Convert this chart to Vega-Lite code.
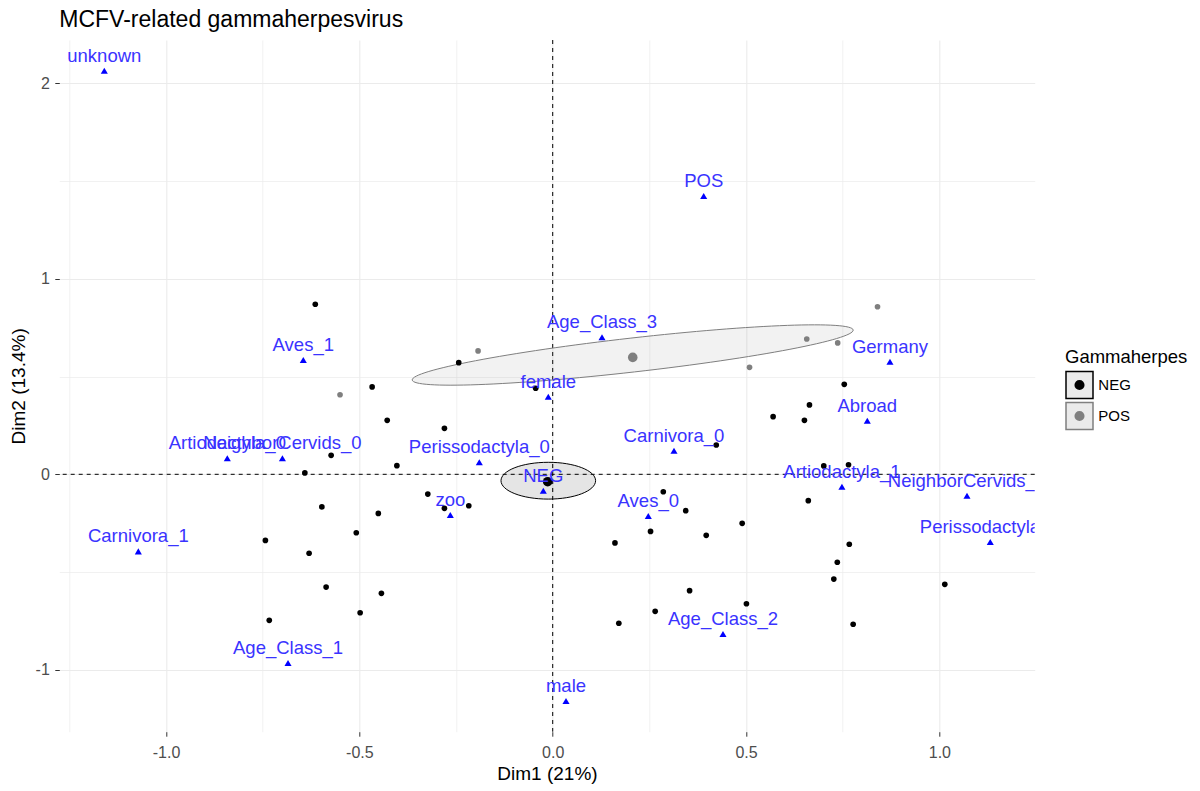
{
  "$schema": "https://vega.github.io/schema/vega-lite/v6.json",
  "width": 975.4,
  "height": 691.7,
  "autosize": {"type": "none"},
  "padding": {"left": 59.3, "top": 40, "right": 165.3, "bottom": 59.3},
  "background": "#ffffff",
  "title": {
    "text": "MCFV-related gammaherpesvirus",
    "anchor": "start",
    "frame": "group",
    "fontSize": 23,
    "font": "Liberation Sans",
    "fontWeight": "normal",
    "color": "#000000",
    "baseline": "alphabetic",
    "offset": -10
  },
  "config": {
    "view": {"stroke": null},
    "font": "Liberation Sans"
  },
  "datasets": {
    "ind": [
      {"x": -0.614, "y": 0.870, "Gammaherpes": "NEG", "kind": "ind"},
      {"x": -0.467, "y": 0.447, "Gammaherpes": "NEG", "kind": "ind"},
      {"x": -0.428, "y": 0.276, "Gammaherpes": "NEG", "kind": "ind"},
      {"x": -0.573, "y": 0.097, "Gammaherpes": "NEG", "kind": "ind"},
      {"x": -0.403, "y": 0.044, "Gammaherpes": "NEG", "kind": "ind"},
      {"x": -0.641, "y": 0.007, "Gammaherpes": "NEG", "kind": "ind"},
      {"x": -0.597, "y": -0.167, "Gammaherpes": "NEG", "kind": "ind"},
      {"x": -0.451, "y": -0.200, "Gammaherpes": "NEG", "kind": "ind"},
      {"x": -0.508, "y": -0.299, "Gammaherpes": "NEG", "kind": "ind"},
      {"x": -0.743, "y": -0.338, "Gammaherpes": "NEG", "kind": "ind"},
      {"x": -0.630, "y": -0.404, "Gammaherpes": "NEG", "kind": "ind"},
      {"x": -0.586, "y": -0.577, "Gammaherpes": "NEG", "kind": "ind"},
      {"x": -0.443, "y": -0.609, "Gammaherpes": "NEG", "kind": "ind"},
      {"x": -0.498, "y": -0.708, "Gammaherpes": "NEG", "kind": "ind"},
      {"x": -0.733, "y": -0.747, "Gammaherpes": "NEG", "kind": "ind"},
      {"x": -0.243, "y": 0.571, "Gammaherpes": "NEG", "kind": "ind"},
      {"x": -0.044, "y": 0.440, "Gammaherpes": "NEG", "kind": "ind"},
      {"x": -0.280, "y": 0.235, "Gammaherpes": "NEG", "kind": "ind"},
      {"x": 0.423, "y": 0.150, "Gammaherpes": "NEG", "kind": "ind"},
      {"x": 0.570, "y": 0.295, "Gammaherpes": "NEG", "kind": "ind"},
      {"x": 0.651, "y": 0.276, "Gammaherpes": "NEG", "kind": "ind"},
      {"x": 0.664, "y": 0.355, "Gammaherpes": "NEG", "kind": "ind"},
      {"x": -0.323, "y": -0.101, "Gammaherpes": "NEG", "kind": "ind"},
      {"x": -0.280, "y": -0.174, "Gammaherpes": "NEG", "kind": "ind"},
      {"x": -0.217, "y": -0.161, "Gammaherpes": "NEG", "kind": "ind"},
      {"x": 0.286, "y": -0.089, "Gammaherpes": "NEG", "kind": "ind"},
      {"x": 0.344, "y": -0.186, "Gammaherpes": "NEG", "kind": "ind"},
      {"x": 0.490, "y": -0.251, "Gammaherpes": "NEG", "kind": "ind"},
      {"x": 0.661, "y": -0.135, "Gammaherpes": "NEG", "kind": "ind"},
      {"x": 0.253, "y": -0.292, "Gammaherpes": "NEG", "kind": "ind"},
      {"x": 0.161, "y": -0.351, "Gammaherpes": "NEG", "kind": "ind"},
      {"x": 0.397, "y": -0.312, "Gammaherpes": "NEG", "kind": "ind"},
      {"x": 0.736, "y": -0.450, "Gammaherpes": "NEG", "kind": "ind"},
      {"x": 0.727, "y": -0.536, "Gammaherpes": "NEG", "kind": "ind"},
      {"x": 0.354, "y": -0.595, "Gammaherpes": "NEG", "kind": "ind"},
      {"x": 0.501, "y": -0.662, "Gammaherpes": "NEG", "kind": "ind"},
      {"x": 0.265, "y": -0.701, "Gammaherpes": "NEG", "kind": "ind"},
      {"x": 0.171, "y": -0.762, "Gammaherpes": "NEG", "kind": "ind"},
      {"x": 0.754, "y": 0.460, "Gammaherpes": "NEG", "kind": "ind"},
      {"x": 0.765, "y": 0.049, "Gammaherpes": "NEG", "kind": "ind"},
      {"x": 0.701, "y": 0.043, "Gammaherpes": "NEG", "kind": "ind"},
      {"x": 0.767, "y": -0.358, "Gammaherpes": "NEG", "kind": "ind"},
      {"x": 0.777, "y": -0.767, "Gammaherpes": "NEG", "kind": "ind"},
      {"x": 1.014, "y": -0.563, "Gammaherpes": "NEG", "kind": "ind"},
      {"x": -0.550, "y": 0.407, "Gammaherpes": "POS", "kind": "ind"},
      {"x": -0.193, "y": 0.631, "Gammaherpes": "POS", "kind": "ind"},
      {"x": 0.509, "y": 0.547, "Gammaherpes": "POS", "kind": "ind"},
      {"x": 0.657, "y": 0.692, "Gammaherpes": "POS", "kind": "ind"},
      {"x": 0.737, "y": 0.672, "Gammaherpes": "POS", "kind": "ind"},
      {"x": 0.840, "y": 0.857, "Gammaherpes": "POS", "kind": "ind"},
      {"x": -0.013, "y": -0.038, "Gammaherpes": "NEG", "kind": "mean"},
      {"x": 0.207, "y": 0.598, "Gammaherpes": "POS", "kind": "mean"}
    ],
    "ell": [
      {"x": -0.0114, "y": -0.0327, "grp": "NEG"},
      {"x": 0.2069, "y": 0.6102, "grp": "POS"}
    ],
    "cat": [
      {"x": -1.1596, "y": 2.0645, "label": "unknown"},
      {"x": 0.3905, "y": 1.4235, "label": "POS"},
      {"x": 0.1275, "y": 0.7008, "label": "Age_Class_3"},
      {"x": -0.645, "y": 0.5847, "label": "Aves_1"},
      {"x": -0.8415, "y": 0.0818, "label": "Artiodactyla_0"},
      {"x": -0.699, "y": 0.0818, "label": "NeighborCervids_0"},
      {"x": -0.0114, "y": 0.397, "label": "female"},
      {"x": -0.1898, "y": 0.0614, "label": "Perissodactyla_0"},
      {"x": 0.3137, "y": 0.1207, "label": "Carnivora_0"},
      {"x": -0.0243, "y": -0.0839, "label": "NEG"},
      {"x": -0.2648, "y": -0.208, "label": "zoo"},
      {"x": 0.2472, "y": -0.2133, "label": "Aves_0"},
      {"x": 0.8722, "y": 0.576, "label": "Germany"},
      {"x": 0.8136, "y": 0.274, "label": "Abroad"},
      {"x": 0.748, "y": -0.0634, "label": "Artiodactyla_1"},
      {"x": 1.0714, "y": -0.1095, "label": "NeighborCervids_1"},
      {"x": 1.1316, "y": -0.346, "label": "Perissodactyla_1"},
      {"x": -1.0716, "y": -0.394, "label": "Carnivora_1"},
      {"x": -0.6845, "y": -0.965, "label": "Age_Class_1"},
      {"x": 0.4404, "y": -0.817, "label": "Age_Class_2"},
      {"x": 0.0344, "y": -1.1596, "label": "male"}
    ]
  },
  "layer": [
    {
      "data": {"values": [{}]},
      "mark": {"type": "rule", "color": "#000000", "strokeWidth": 1, "strokeDash": [4, 4]},
      "encoding": {
        "x": {"datum": 0, "type": "quantitative", "scale": {"domain": [-1.276, 1.2465], "nice": false, "zero": false}}
      }
    },
    {
      "data": {"values": [{}]},
      "mark": {"type": "rule", "color": "#000000", "strokeWidth": 1, "strokeDash": [4, 4]},
      "encoding": {
        "y": {"datum": 0, "type": "quantitative", "scale": {"domain": [-1.3166, 2.2215], "nice": false, "zero": false}}
      }
    },
    {
      "data": {"name": "ell"},
      "mark": {"type": "point", "filled": true, "size": 4, "opacity": 1, "fillOpacity": 0.1, "strokeOpacity": 1, "strokeWidth": 1},
      "encoding": {
        "x": {"field": "x", "type": "quantitative", "scale": {"domain": [-1.276, 1.2465], "nice": false, "zero": false}},
        "y": {"field": "y", "type": "quantitative", "scale": {"domain": [-1.3166, 2.2215], "nice": false, "zero": false}},
        "shape": {
          "field": "grp", "type": "nominal", "legend": null,
          "scale": {"domain": ["NEG", "POS"], "range": [
            "M-47.3,0A47.3,18.4,0,1,1,47.3,0A47.3,18.4,0,1,1,-47.3,0Z",
            "M-220.5,25A221.9,17,-6.47,1,1,220.5,-25A221.9,17,-6.47,1,1,-220.5,25Z"
          ]}
        },
        "fill": {
          "field": "grp", "type": "nominal", "legend": null,
          "scale": {"domain": ["NEG", "POS"], "range": ["#000000", "#7f7f7f"]}
        },
        "stroke": {
          "field": "grp", "type": "nominal",
          "scale": {"range": ["#000000", "#7f7f7f"]},
          "legend": {
            "orient": "none", "legendX": 1005.7, "legendY": 308, "padding": 0,
            "title": "Gammaherpes", "titleFont": "Liberation Sans", "titleFontSize": 18.5, "titleFontWeight": "normal", "titleColor": "#000000", "titlePadding": 4,
            "labelFont": "Liberation Sans", "labelFontSize": 15, "labelColor": "#000000", "labelOffset": 4.3,
            "symbolType": "M-1,-1L1,-1L1,1L-1,1ZM0.0519,0C0.0519,0.0287,0.0287,0.0519,0,0.0519C-0.0287,0.0519,-0.0519,0.0287,-0.0519,0C-0.0519,-0.0287,-0.0287,-0.0519,0,-0.0519C0.0287,-0.0519,0.0519,-0.0287,0.0519,0ZM0.1481,0C0.1481,0.0818,0.0818,0.1481,0,0.1481C-0.0818,0.1481,-0.1481,0.0818,-0.1481,0C-0.1481,-0.0818,-0.0818,-0.1481,0,-0.1481C0.0818,-0.1481,0.1481,-0.0818,0.1481,0ZM0.2444,0C0.2444,0.135,0.135,0.2444,0,0.2444C-0.135,0.2444,-0.2444,0.135,-0.2444,0C-0.2444,-0.135,-0.135,-0.2444,0,-0.2444C0.135,-0.2444,0.2444,-0.135,0.2444,0ZM0.3185,0C0.3185,0.1759,0.1759,0.3185,0,0.3185C-0.1759,0.3185,-0.3185,0.1759,-0.3185,0C-0.3185,-0.1759,-0.1759,-0.3185,0,-0.3185C0.1759,-0.3185,0.3185,-0.1759,0.3185,0Z",
            "symbolSize": 729, "symbolStrokeWidth": 1.5, "symbolOpacity": 1,
            "symbolFillColor": "#eaeaea",
            "rowPadding": -3
          }
        }
      }
    },
    {
      "data": {"name": "ind"},
      "mark": {"type": "point", "filled": true, "shape": "circle", "opacity": 1},
      "encoding": {
        "x": {
          "field": "x", "type": "quantitative",
          "scale": {"domain": [-1.276, 1.2465], "nice": false, "zero": false},
          "axis": {
            "values": [-1.25, -1, -0.75, -0.5, -0.25, 0, 0.25, 0.5, 0.75, 1, 1.25],
            "labelExpr": "datum.value % 0.5 === 0 ? ((datum.value < 0 ? '-' : '') + format(abs(datum.value), '.1f')) : ''",
            "labelOverlap": false, "labelFlush": false,
            "domain": false,
            "grid": true, "gridColor": "#ebebeb",
            "gridWidth": {"condition": {"test": "datum.value % 0.5 !== 0", "value": 0.7}, "value": 1.1},
            "ticks": true, "tickSize": 4.5, "tickWidth": 1,
            "tickColor": {"condition": {"test": "datum.value % 0.5 !== 0", "value": "transparent"}, "value": "#333333"},
            "labelFont": "Liberation Sans", "labelFontSize": 16, "labelColor": "#4d4d4d", "labelPadding": 8,
            "title": "Dim1 (21%)", "titleFont": "Liberation Sans", "titleFontSize": 19, "titleFontWeight": "normal", "titleColor": "#000000", "titlePadding": 4
          }
        },
        "y": {
          "field": "y", "type": "quantitative",
          "scale": {"domain": [-1.3166, 2.2215], "nice": false, "zero": false},
          "axis": {
            "values": [-1, -0.5, 0, 0.5, 1, 1.5, 2],
            "labelExpr": "datum.value % 1 === 0 ? ((datum.value < 0 ? '-' : '') + format(abs(datum.value), 'd')) : ''",
            "labelOverlap": false, "labelFlush": false,
            "domain": false,
            "grid": true, "gridColor": "#ebebeb",
            "gridWidth": {"condition": {"test": "datum.value % 1 !== 0", "value": 0.7}, "value": 1.1},
            "ticks": true, "tickSize": 4.5, "tickWidth": 1,
            "tickColor": {"condition": {"test": "datum.value % 1 !== 0", "value": "transparent"}, "value": "#333333"},
            "labelFont": "Liberation Sans", "labelFontSize": 16, "labelColor": "#4d4d4d", "labelPadding": 5.5,
            "title": "Dim2 (13.4%)", "titleFont": "Liberation Sans", "titleFontSize": 19, "titleFontWeight": "normal", "titleColor": "#000000", "titlePadding": 7
          }
        },
        "color": {
          "field": "Gammaherpes", "type": "nominal",
          "scale": {"range": ["#000000", "#7f7f7f"]},
          "legend": null
        },
        "size": {
          "field": "kind", "type": "nominal", "legend": null,
          "scale": {"domain": ["ind", "mean"], "range": [32, 92]}
        }
      }
    },
    {
      "data": {"name": "cat"},
      "mark": {"type": "point", "shape": "triangle-up", "filled": true, "color": "#0000ff", "opacity": 1, "size": 50},
      "encoding": {
        "x": {"field": "x", "type": "quantitative", "scale": {"domain": [-1.276, 1.2465], "nice": false, "zero": false}},
        "y": {"field": "y", "type": "quantitative", "scale": {"domain": [-1.3166, 2.2215], "nice": false, "zero": false}}
      }
    },
    {
      "data": {"name": "cat"},
      "mark": {"type": "text", "font": "Liberation Sans", "fontSize": 18.5, "color": "#3a33ff", "align": "center", "baseline": "alphabetic", "dy": -9, "clip": true},
      "encoding": {
        "x": {"field": "x", "type": "quantitative", "scale": {"domain": [-1.276, 1.2465], "nice": false, "zero": false}},
        "y": {"field": "y", "type": "quantitative", "scale": {"domain": [-1.3166, 2.2215], "nice": false, "zero": false}},
        "text": {"field": "label", "type": "nominal"}
      }
    }
  ]
}
